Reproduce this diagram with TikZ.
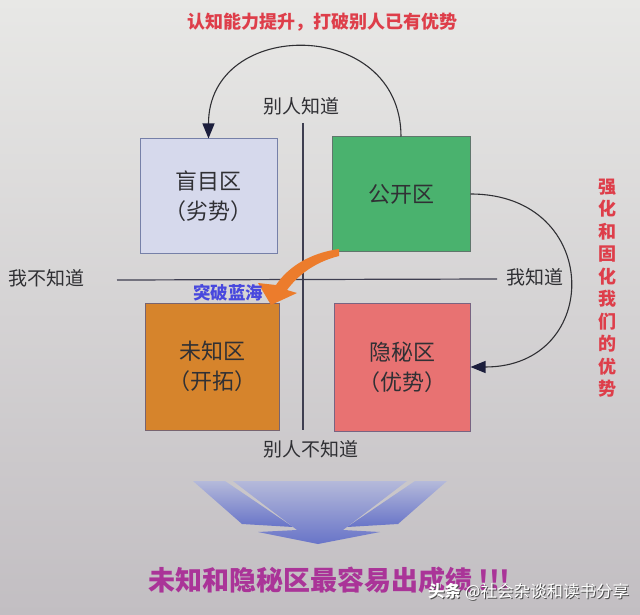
\documentclass[tikz,border=0pt]{standalone}
\usepackage{fontspec}
\newfontfamily\cjk{Noto Sans CJK SC}
\usetikzlibrary{arrows.meta}
\definecolor{bgtop}{RGB}{232,232,230}
\definecolor{bgbot}{RGB}{194,190,194}
\definecolor{mmfill}{RGB}{214,217,236}
\definecolor{mmdraw}{RGB}{118,128,168}
\definecolor{gkfill}{RGB}{74,178,110}
\definecolor{gkdraw}{RGB}{96,118,108}
\definecolor{wzfill}{RGB}{214,132,44}
\definecolor{wzdraw}{RGB}{120,100,112}
\definecolor{ymfill}{RGB}{232,114,114}
\definecolor{ymdraw}{RGB}{120,100,130}
\definecolor{txt}{RGB}{48,48,52}
\definecolor{axis}{RGB}{62,62,80}
\definecolor{titlered}{RGB}{222,62,74}
\definecolor{seablue}{RGB}{72,72,222}
\definecolor{purp}{RGB}{170,52,152}
\definecolor{arrblue}{RGB}{104,116,200}
\definecolor{orangea}{RGB}{236,124,44}
\definecolor{navy}{RGB}{28,30,60}
\begin{document}
\begin{tikzpicture}[x=1pt,y=-1pt,
  zone/.style={draw=#1, line width=1pt, inner sep=0pt, align=center, text=txt,
    font=\cjk\fontsize{22}{30}\selectfont},
  lab/.style={inner sep=0pt, text=txt, font=\cjk\fontsize{19}{22}\selectfont},
  axisline/.style={draw=axis, line width=1.2pt},
  cyc/.style={draw=txt, line width=1.1pt, -{Triangle[length=15pt,width=12pt,fill=navy,color=navy]}},
  redtxt/.style={inner sep=0pt, text=titlered, font=\cjk\bfseries\fontsize{18}{22.5}\selectfont},
  wmark/.style={inner sep=0pt, anchor=west, font=\cjk\fontsize{16.5}{20}\selectfont}
]
\useasboundingbox (0,0) rectangle (640,615);
\shade[top color=bgtop, bottom color=bgbot] (0,0) rectangle (640,615);

% title
\node[redtxt] (title) at (322,22) {认知能力提升，打破别人已有优势};

% axis labels
\node[lab] (ltop) at (301,106) {别人知道};
\node[lab] (lbot) at (311,449) {别人不知道};
\node[lab] (lleft) at (47,278) {我不知道};
\node[lab] (lright) at (535,277) {我知道};
\coordinate (vtop) at (303,123);
\coordinate (vbot) at (303,430);
\coordinate (hl) at (117,280);
\coordinate (hr) at (497,279);
\draw[axisline] (vtop) -- (vbot);
\draw[axisline] (hl) -- (hr);

% zones
\node[zone=mmdraw, fill=mmfill, minimum width=137pt, minimum height=114pt] (mm) at (208.5,196) {盲目区\\（劣势）};
\node[zone=gkdraw, fill=gkfill, minimum width=138pt, minimum height=114pt] (gk) at (401,194) {公开区};
\node[zone=wzdraw, fill=wzfill, minimum width=134pt, minimum height=127pt] (wz) at (212,366.5) {未知区\\（开拓）};
\node[zone=ymdraw, fill=ymfill, minimum width=136pt, minimum height=128pt] (ym) at (402,367) {隐秘区\\（优势）};

% cycle arrows
\draw[cyc] (gk.north) .. controls (401,17) and (208.5,17) .. (mm.north);
\draw[cyc] (gk.east) .. controls (603,194) and (603,367) .. (ym.east);

% orange breakthrough arrow
\fill[orangea] (339,249) .. controls (310,253) and (288,267) .. (276,285)
  -- (258,283) -- (271,305) -- (297,293) -- (287,290)
  .. controls (298,275) and (315,262) .. (339,256) -- cycle;
\node[inner sep=0pt, text=seablue, font=\cjk\bfseries\fontsize{17.5}{20}\selectfont] (sea) at (228,293) {突破蓝海};

% right vertical text
\node[redtxt, align=center] (side) at (607,288) {强\\化\\和\\固\\化\\我\\们\\的\\优\\势};

% bottom converging arrow
\shade[top color=bgtop!60!arrblue, bottom color=arrblue]
  (193,481) -- (225,481) -- (293,527) -- (242,524) -- cycle;
\shade[top color=bgtop!60!arrblue, bottom color=arrblue]
  (447,481) -- (415,481) -- (347,527) -- (398,524) -- cycle;
\shade[top color=bgtop!60!arrblue, bottom color=arrblue]
  (233,481) -- (407,481) -- (343,530) -- (380,532) -- (318,544)
  -- (258,532) -- (297,530) -- cycle;

% bottom conclusion
\node[inner sep=0pt, anchor=west, text=purp, font=\cjk\bfseries\fontsize{27}{30}\selectfont] (concl) at (148,580) {未知和隐秘区最容易出成绩 !!!};

% watermark
\node[wmark, text=black!70] (wmshadow) at (429,593) {\textbf{头条} @社会杂谈和读书分享};
\node[wmark, text=white] (wm) at (428,592) {\textbf{头条} @社会杂谈和读书分享};
\end{tikzpicture}
\end{document}
